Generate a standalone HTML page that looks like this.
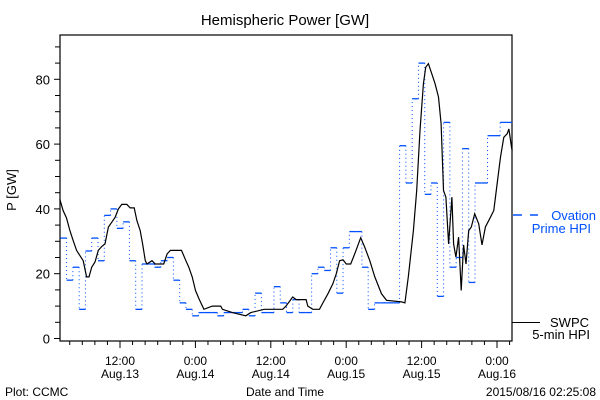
<!DOCTYPE html>
<html><head><meta charset="utf-8"><style>
html,body{margin:0;padding:0;background:#fff;}
svg{display:block;font-family:"Liberation Sans",sans-serif;}
</style></head><body>
<svg id="chart" width="600" height="400" viewBox="0 0 600 400">
<text x="285" y="25" font-size="15" text-anchor="middle">Hemispheric Power [GW]</text>
<text x="16" y="190" font-size="13" text-anchor="middle" transform="rotate(-90 16 190)">P [GW]</text>
<text x="285" y="396" font-size="12" text-anchor="middle">Date and Time</text>
<text x="5" y="396" font-size="12">Plot: CCMC</text>
<text x="596" y="396" font-size="12" text-anchor="end">2015/08/16 02:25:08</text>
<g id="axes"></g>
<g id="series"></g>
<g>
<line x1="513" y1="215" x2="522" y2="215" stroke="#0050ff" stroke-width="1.5"/>
<line x1="530" y1="215" x2="538" y2="215" stroke="#0050ff" stroke-width="1.5"/>
<text x="596" y="220" font-size="13" text-anchor="end" fill="#0050ff">Ovation</text>
<text x="591" y="233" font-size="13" text-anchor="end" fill="#0050ff">Prime HPI</text>
</g>
<g>
<line x1="512" y1="322.5" x2="540" y2="322.5" stroke="#000" stroke-width="1"/>
<text x="589" y="327" font-size="13" text-anchor="end">SWPC</text>
<text x="590" y="339" font-size="13" text-anchor="end">5-min HPI</text>
</g>
</svg>
<script>
// hours since Aug 13 00:00
const xStart = 2.42, xEnd = 74.42;
const yTicks = [0,20,40,60,80];
const xTickHours = [12,24,36,48,60,72];
const xTickTimes = ["12:00","0:00","12:00","0:00","12:00","0:00"];
const xTickDates = ["Aug.13","Aug.14","Aug.14","Aug.15","Aug.15","Aug.16"];
// Ovation Prime hourly values, slot k spans [k+2.5, k+3.5] hours (clipped to range)
const ovationValues = [31,18,22,9,27,31,24,38,40,34,36,24,9,23,23,22,24,25,18,11,9,7,8,8,8,7,8,8,8,9,7,14,8,8,16,11,8,12,8,8,20,22,21,28,14,28,33,33,22,9,11,11,11,11,59.5,48,74,85,44.5,48,13,66.7,22,25,58.6,17.3,48,48,62.6,62.6,66.7,66.7,64];
// SWPC 5-min HPI
const swpcHours = [2.42,2.95,3.49,4.02,4.55,5.09,5.62,6.15,6.69,7.06,7.49,8.02,8.55,9.09,9.62,10.15,10.69,11.22,11.75,12.29,13.09,13.62,14.26,14.69,15.22,15.59,16.02,16.29,17.09,17.62,18.95,19.49,20.02,21.78,22.42,22.95,23.49,24.02,24.55,25.35,26.69,28.02,28.29,29.89,32.02,32.82,34.95,35.75,37.89,38.42,39.49,40.02,41.62,41.89,42.69,43.75,44.29,45.09,45.89,46.42,46.95,47.49,48.02,48.71,49.35,50.31,50.95,51.75,52.55,53.62,54.42,56.82,57.35,57.89,58.69,59.22,59.75,60.29,60.66,61.09,61.62,62.15,62.69,63.1,63.49,63.86,64.29,64.82,65.09,65.46,65.89,66.31,66.69,67.06,67.49,67.91,68.45,69.09,69.62,70.15,70.95,71.49,72.02,72.55,73.09,73.62,73.89,74.31,74.42];
const swpcValues = [43,39.5,37.2,33.3,30.2,27.2,25.6,24,19,19,22,23.6,27.2,28.4,29.2,34.4,35.9,37.4,40,41.4,41.4,40.3,40.3,36.4,33.3,29.2,24,23,24,23,23,26.1,27.2,27.2,24.3,22,19,14.8,12.3,9,10,10,9,8,7,8,9,9,9,10,12.8,12,12,10,9,9,11,13.8,16.9,20,24,24.3,23,23,26.1,31.1,28.2,24,19,13.8,11.8,11.3,11,19,33.3,45.7,64.2,78.6,83.7,84.8,81.7,78.6,74.5,66.3,45.7,43.6,29.2,43.6,29.2,25.1,31.3,14.8,28.9,23,33.3,34.4,38.5,35.4,28.9,34.4,37.4,39.5,47.7,56,62.1,63.2,64.7,59,58];

const L=60,R=512,T=35,B=341;
const xs = h => 120 + (h-12)*(377/60);
const ys = v => 338.5 - v*3.24;
const NS="http://www.w3.org/2000/svg";
function mk(tag, attrs, parent){const e=document.createElementNS(NS,tag);for(const k in attrs)e.setAttribute(k,attrs[k]);parent.appendChild(e);return e;}
const axes=document.getElementById('axes');
const frame=mk('rect',{x:L,y:T,width:R-L,height:B-T,fill:'none',stroke:'#000','stroke-width':1.2},axes);


for(let v=0;v<=90;v+=5){
  const y=ys(v);
  const t=mk('line',{x1:L-(v%20===0?6:5),x2:L,y1:y,y2:y,stroke:'#000'},axes);
  
  
}
yTicks.forEach(v=>{
  const t=mk('text',{x:L-10,y:ys(v)+5,'font-size':13,'text-anchor':'end'},axes);
  t.textContent=v;
  
  
});
for(let h=4;h<=74;h+=2){
  const x=xs(h);
  const major=h%12===0;
  const t=mk('line',{x1:x,x2:x,y1:B,y2:B+(major?7:4),stroke:'#000'},axes);
  
  
}
xTickHours.forEach((h,i)=>{
  const t1=mk('text',{x:xs(h),y:365,'font-size':12,'text-anchor':'middle'},axes);
  t1.textContent=xTickTimes[i];
  
  
  const t2=mk('text',{x:xs(h),y:378,'font-size':12,'text-anchor':'middle'},axes);
  t2.textContent=xTickDates[i];
  
  
});
const series=document.getElementById('series');
const ov=mk('g',{},series);


ovationValues.forEach((v,k)=>{
  const h0=Math.max(xStart,k+2.5), h1=Math.min(xEnd,k+3.5);
  if(h0>=xEnd) return;
  const s=mk('line',{x1:xs(h0),x2:xs(h1),y1:ys(v),y2:ys(v),stroke:'#0050ff','stroke-width':1.3},ov);
  
  
  if(k>0){
    const d=mk('line',{x1:xs(h0),x2:xs(h0),y1:ys(ovationValues[k-1]),y2:ys(v),stroke:'#0050ff','stroke-width':1,'stroke-dasharray':'1,3'},ov);
    
    
  }
});
const pts=swpcHours.map((h,i)=>xs(h).toFixed(1)+','+ys(swpcValues[i]).toFixed(1)).join(' ');
const pl=mk('polyline',{points:pts,fill:'none',stroke:'#000','stroke-width':1.2},series);


</script>
</body></html>
